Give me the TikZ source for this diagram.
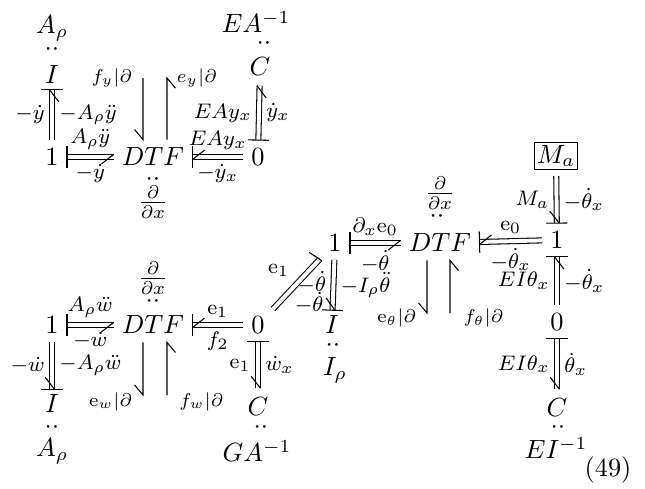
\documentclass[tikz,border=0pt]{standalone}
\usepackage{amsmath}
\usepackage{amssymb}
\usepackage{tikz}
\usetikzlibrary{calc}

\tikzset{
  jun/.style={inner sep=3pt},
  elt/.style={inner sep=2pt},
  celt/.style={inner sep=3.5pt},
  parm/.style={inner sep=0pt},
  blbl/.style={font=\footnotesize, inner sep=2.6pt, midway},
  plbl/.style={font=\scriptsize, inner sep=1pt},
  bondline/.style={double, double distance=1.5pt, line width=0.4pt},
}

% bond: tail, head, tip side, barb angle, labels
\newcommand{\bnd}[5]{%
  \path (#1) -- (#2) coordinate[pos=0] (bt) coordinate[pos=1] (bh);
  \draw[bondline] (bt) -- (bh) #5;
  \coordinate (bk) at ($(bh)!0.95pt!#3:(bt)$);
  \draw (bk) -- ($(bk)!5.8pt!#4:(bt)$);
}
% causal stroke at #1, bond toward #2
\newcommand{\cst}[2]{\draw ($(#1)!4pt!90:(#2)$) -- ($(#1)!4pt!-90:(#2)$);}
% port line, half arrow at head
\newcommand{\prt}[2]{\draw (#1) -- (#2) -- ($(#2)!5pt!40:(#1)$);}

\begin{document}
\begin{tikzpicture}[x=0.38pt, y=-0.38pt]
  \useasboundingbox (0,0) rectangle (645,489);

  % axial part
  \node[jun] (n1a) at (52,157) {$1$};
  \node[jun] (dtfa) at (153,157) {$DTF$};
  \node[jun] (z0a) at (258,157) {$0$};
  \node[elt] (Ia) at (52,75) {$I$};
  \node[parm] (Iad) at (52,50) {${\cdot}{\cdot}$};
  \node[parm] (Iap) at (52,28) {$A_\rho$};
  \node[celt] (Ca) at (260,67) {$C$};
  \node[parm] (Cad) at (264,44) {${\cdot}{\cdot}$};
  \node[parm] (Cap) at (256,22) {$EA^{-1}$};
  \node[parm] (dda) at (153,202) {$\frac{\partial}{\partial x}$};
  \node[parm] (ddad) at (153,180) {${\cdot}{\cdot}$};

  \bnd{n1a}{Ia}{-90}{35}{node[blbl, left]{$-\dot{y}$} node[blbl, right]{$-A_\rho\ddot{y}$}}
  \cst{bh}{bt}
  \bnd{n1a}{dtfa}{-90}{35}{node[blbl, above]{$A_\rho\ddot{y}$} node[blbl, below]{$-\dot{y}$}}
  \cst{bt}{bh}
  \bnd{z0a}{dtfa}{-90}{35}{node[blbl, above]{$EAy_x$} node[blbl, below]{$-\dot{y}_x$}}
  \cst{bh}{bt}
  \bnd{z0a}{Ca}{-90}{35}{node[blbl, left]{$EAy_x$} node[blbl, right]{$\dot{y}_x$}}
  \cst{bt}{bh}

  \coordinate (pfa) at (143,78);
  \coordinate (pea) at (167,78);
  \coordinate (pfah) at (pfa |- dtfa.north);
  \coordinate (peah) at (pea |- dtfa.north);
  \prt{pfa}{pfah}
  \prt{peah}{pea}
  \node[plbl, left=3pt] (lfa) at (pfa) {$f_y|\partial$};
  \node[plbl, right=2.5pt] (lea) at (pea) {$e_y|\partial$};

  % transverse part
  \node[jun] (n1b) at (52,325) {$1$};
  \node[jun] (dtfb) at (153,325) {$DTF$};
  \node[jun] (z0b) at (258,325) {$0$};
  \node[elt] (Ib) at (52,404) {$I$};
  \node[parm] (Ibd) at (52,428) {${\cdot}{\cdot}$};
  \node[parm] (Ibp) at (52,451) {$A_\rho$};
  \node[celt] (Cb) at (258,407) {$C$};
  \node[parm] (Cbd) at (261,428) {${\cdot}{\cdot}$};
  \node[parm] (Cbp) at (257,451) {$GA^{-1}$};
  \node[parm] (ddb) at (153,278) {$\frac{\partial}{\partial x}$};
  \node[parm] (ddbd) at (153,302) {${\cdot}{\cdot}$};

  \bnd{n1b}{dtfb}{-90}{35}{node[blbl, above]{$A_\rho\ddot{w}$} node[blbl, below]{$-\dot{w}$}}
  \cst{bt}{bh}
  \bnd{n1b}{Ib}{-90}{35}{node[blbl, left]{$-\dot{w}$} node[blbl, right]{$-A_\rho\ddot{w}$}}
  \cst{bh}{bt}
  \bnd{z0b}{dtfb}{-90}{35}{node[blbl, above]{$\mathrm{e}_1$} node[blbl, below]{$f_2$}}
  \cst{bh}{bt}
  \bnd{z0b}{Cb}{-90}{35}{node[blbl, left]{$\mathrm{e}_1$} node[blbl, right]{$\dot{w}_x$}}
  \cst{bt}{bh}

  \coordinate (pwe) at (143,395);
  \coordinate (pwf) at (167,395);
  \coordinate (pweh) at (pwe |- dtfb.south);
  \coordinate (pwfh) at (pwf |- dtfb.south);
  \prt{pweh}{pwe}
  \prt{pwf}{pwfh}
  \node[plbl, anchor=east] (lwe) at ([xshift=-3pt, yshift=-2.5pt]pwe) {$\mathrm{e}_w|\partial$};
  \node[plbl, anchor=west] (lwf) at ([xshift=3.5pt, yshift=-2.5pt]pwf) {$f_w|\partial$};

  % rotation part
  \node[jun] (n1m) at (335,243) {$1$};
  \node[jun] (dtfm) at (440,243) {$DTF$};
  \node[elt] (Im) at (332,325) {$I$};
  \node[parm] (Imd) at (333,346) {${\cdot}{\cdot}$};
  \node[parm] (Imp) at (335,370) {$I_\rho$};
  \node[parm] (ddm) at (440,193) {$\frac{\partial}{\partial x}$};
  \node[parm] (ddmd) at (437,217) {${\cdot}{\cdot}$};

  \bnd{z0b}{n1m}{90}{-78}{node[blbl, above left]{$\mathrm{e}_1$} node[blbl, pos=0.4, below right, inner sep=1pt]{$-\dot{\theta}$}}
  \bnd{n1m}{dtfm}{-90}{35}{node[blbl, above]{$\partial_x\mathrm{e}_0$} node[blbl, below]{$-\dot{\theta}$}}
  \cst{bt}{bh}
  \bnd{n1m}{Im}{-90}{35}{node[blbl, left, pos=0.45]{$-\dot{\theta}$} node[blbl, right]{$-I_\rho\ddot{\theta}$}}
  \cst{bh}{bt}

  \coordinate (pte) at (427,313);
  \coordinate (ptf) at (450,313);
  \coordinate (pteh) at (pte |- dtfm.south);
  \coordinate (ptfh) at (ptf |- dtfm.south);
  \prt{pteh}{pte}
  \prt{ptf}{ptfh}
  \node[plbl, anchor=east] (lte) at ([xshift=-3pt, yshift=-2pt]pte) {$\mathrm{e}_\theta|\partial$};
  \node[plbl, anchor=west] (ltf) at ([xshift=4pt, yshift=-2pt]ptf) {$f_\theta|\partial$};

  % boundary side
  \node[draw, inner sep=1pt, outer sep=2.5pt] (Ma) at (556,156) {$M_a$};
  \node[jun] (n1r) at (557,240) {$1$};
  \node[jun] (z0r) at (557,322) {$0$};
  \node[celt] (Cr) at (557,408) {$C$};
  \node[parm] (Crd) at (558,428) {${\cdot}{\cdot}$};
  \node[parm] (Crp) at (556,448) {$EI^{-1}$};

  \bnd{n1r}{dtfm}{-90}{35}{node[blbl, above]{$\mathrm{e}_0$} node[blbl, below]{$-\dot{\theta}_x$}}
  \cst{bh}{bt}
  \bnd{Ma}{n1r}{-90}{35}{node[blbl, left]{$M_a$} node[blbl, right]{$-\dot{\theta}_x$}}
  \cst{bh}{bt}
  \bnd{z0r}{n1r}{-90}{35}{node[blbl, left]{$EI\theta_x$} node[blbl, right]{$-\dot{\theta}_x$}}
  \cst{bh}{bt}
  \bnd{z0r}{Cr}{-90}{35}{node[blbl, left]{$EI\theta_x$} node[blbl, right]{$\dot{\theta}_x$}}
  \cst{bt}{bh}

  \node[parm] (eqno) at (608,470) {(49)};
\end{tikzpicture}
\end{document}
